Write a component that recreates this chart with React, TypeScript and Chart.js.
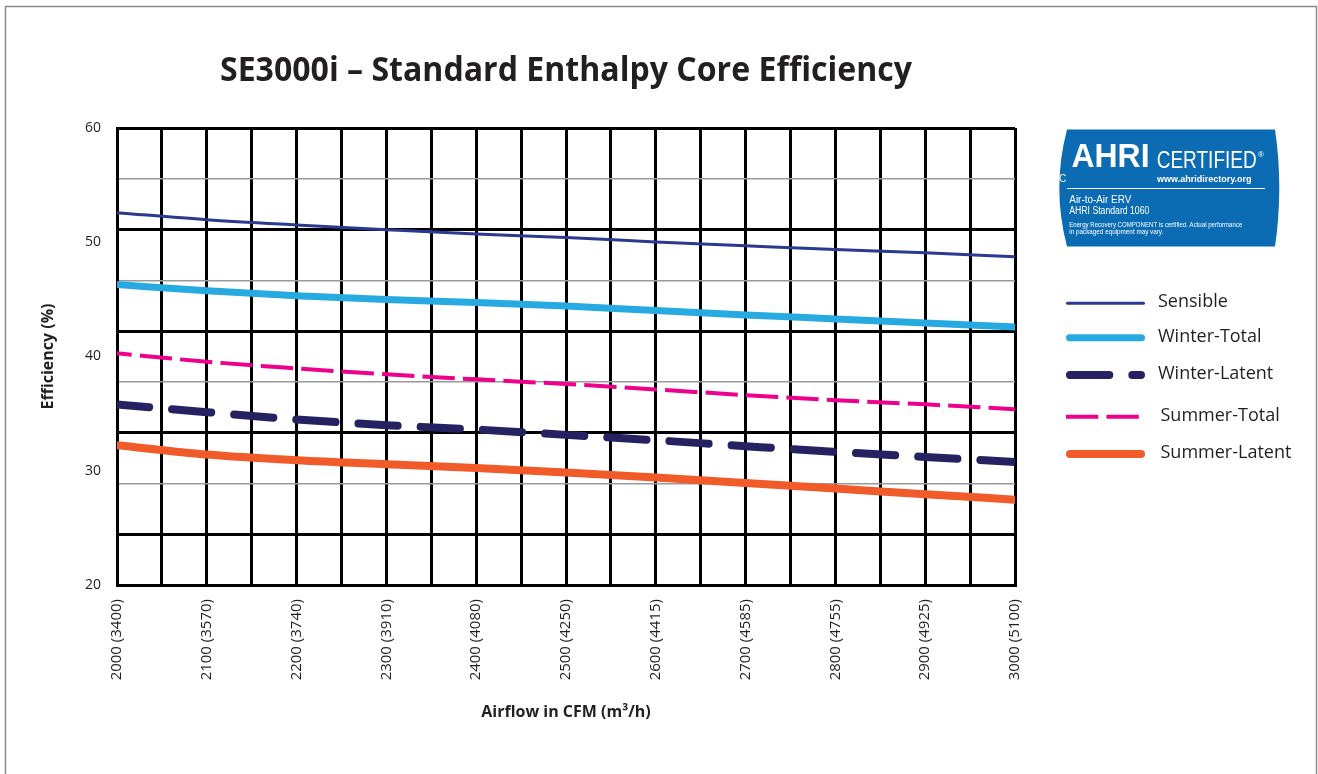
import React, { useEffect, useRef } from 'react';
import { Chart, registerables } from 'chart.js';

Chart.register(...registerables);

// ---- Data ----
const cfm = [2000, 2100, 2200, 2300, 2400, 2500, 2600, 2700, 2800, 2900, 3000];
const xTickLabels = [
  '2000 (3400)', '2100 (3570)', '2200 (3740)', '2300 (3910)', '2400 (4080)', '2500 (4250)',
  '2600 (4415)', '2700 (4585)', '2800 (4755)', '2900 (4925)', '3000 (5100)',
];
const sensible = [52.59, 51.97, 51.51, 51.1, 50.72, 50.42, 50.02, 49.69, 49.37, 49.08, 48.73];
const winterTotal = [46.3, 45.75, 45.31, 44.98, 44.72, 44.43, 44.02, 43.64, 43.29, 42.94, 42.59];
const summerTotal = [40.28, 39.54, 38.96, 38.44, 38.0, 37.59, 37.12, 36.62, 36.18, 35.81, 35.39];
const winterLatent = [35.81, 35.13, 34.49, 33.99, 33.61, 33.14, 32.67, 32.15, 31.65, 31.21, 30.77];
const summerLatent = [32.24, 31.42, 30.92, 30.57, 30.25, 29.84, 29.4, 28.93, 28.44, 27.94, 27.47];
const seriesNames = ['Sensible', 'Winter-Total', 'Winter-Latent', 'Summer-Total', 'Summer-Latent'];

const chartTitle = 'SE3000i \u2013 Standard Enthalpy Core Efficiency';
const xTitle = 'Airflow in CFM (m\u00B3/h)';
const yTitle = 'Efficiency (%)';

const FONT = "'Open Sans', sans-serif";
const BADGE_FONT = "'Liberation Sans', Arial, sans-serif";
const TEXT = '#231f20';

const toPts = (arr: number[]) => arr.map((v, i) => ({ x: cfm[i], y: v }));

const decorPlugin = {
  id: 'decor',
  beforeDraw(chart: any) {
    const ctx = chart.ctx;
    ctx.save();
    ctx.fillStyle = '#ffffff';
    ctx.fillRect(0, 0, chart.width, chart.height);
    ctx.strokeStyle = '#8a8a8a';
    ctx.lineWidth = 1.5;
    ctx.strokeRect(5.5, 6.5, 1311, 900);
    ctx.restore();
  },
  afterDraw(chart: any) {
    const ctx = chart.ctx;
    ctx.save();
    // Title
    ctx.fillStyle = TEXT;
    ctx.font = `bold 34px ${FONT}`;
    ctx.textAlign = 'center';
    ctx.textBaseline = 'alphabetic';
    ctx.fillText(chartTitle, 566, 81, 692);

    // Legend
    const rows = [303.3, 337.7, 375, 416.7, 454];
    const textX = [1158, 1158, 1158, 1160.5, 1160.5];
    chart.data.datasets.forEach((ds: any, i: number) => {
      const y = rows[i];
      ctx.save();
      ctx.strokeStyle = ds.borderColor;
      ctx.lineWidth = ds.borderWidth;
      ctx.lineCap = ds.borderDash && ds.borderDash.length && ds.borderCapStyle !== 'round' ? 'butt' : 'round';
      ctx.setLineDash(ds.borderDash || []);
      const w2 = ctx.lineCap === 'round' ? ds.borderWidth / 2 : 0;
      ctx.beginPath();
      ctx.moveTo(1066 + w2, y);
      ctx.lineTo(1145 - w2, y);
      ctx.stroke();
      ctx.restore();
      ctx.fillStyle = TEXT;
      ctx.font = `18px ${FONT}`;
      ctx.textAlign = 'left';
      ctx.textBaseline = 'middle';
      ctx.fillText(ds.label, textX[i], y - 1);
    });

    // AHRI badge
    ctx.fillStyle = '#0b6cb3';
    ctx.beginPath();
    ctx.moveTo(1067, 129.5);
    ctx.lineTo(1275, 129.5);
    ctx.quadraticCurveTo(1283.6, 188, 1275, 246.5);
    ctx.lineTo(1067, 246.5);
    ctx.quadraticCurveTo(1051.6, 188, 1067, 129.5);
    ctx.closePath();
    ctx.fill();

    ctx.fillStyle = '#ffffff';
    ctx.textAlign = 'left';
    ctx.textBaseline = 'alphabetic';
    ctx.font = `bold 33px ${BADGE_FONT}`;
    ctx.fillText('AHRI', 1071.5, 166.7, 78);
    ctx.font = `23px ${BADGE_FONT}`;
    ctx.fillText('CERTIFIED', 1156.7, 168.3, 100);
    ctx.font = `8px ${BADGE_FONT}`;
    ctx.fillText('\u00AE', 1258, 157);
    ctx.font = `bold 9px ${BADGE_FONT}`;
    ctx.fillText('www.ahridirectory.org', 1157, 181.7, 100);
    ctx.font = `10px ${BADGE_FONT}`;
    ctx.fillText('C', 1059, 181.5);
    ctx.strokeStyle = '#ffffff';
    ctx.lineWidth = 1;
    ctx.beginPath();
    ctx.moveTo(1067, 188.5);
    ctx.lineTo(1265, 188.5);
    ctx.stroke();
    ctx.font = `10px ${BADGE_FONT}`;
    ctx.fillText('Air-to-Air ERV', 1069.3, 203.3, 62);
    ctx.fillText('AHRI Standard 1060', 1069.3, 214, 80);
    ctx.font = `7px ${BADGE_FONT}`;
    ctx.fillText('Energy Recovery COMPONENT is certified. Actual performance', 1069.3, 227, 173);
    ctx.fillText('in packaged equipment may vary.', 1069.3, 233.5, 94);
    ctx.restore();
  },
};

export default function App() {
  const ref = useRef<HTMLCanvasElement>(null);
  useEffect(() => {
    document.body.style.margin = '0';
    const chart = new Chart(ref.current as HTMLCanvasElement, {
      type: 'line',
      data: {
        datasets: [
          {
            label: seriesNames[0], data: toPts(sensible), borderColor: '#2b3990', borderWidth: 3,
            pointRadius: 0, cubicInterpolationMode: 'monotone', borderCapStyle: 'round',
          },
          {
            label: seriesNames[1], data: toPts(winterTotal), borderColor: '#27aae1', borderWidth: 7,
            pointRadius: 0, cubicInterpolationMode: 'monotone', borderCapStyle: 'round',
          },
          {
            label: seriesNames[2], data: toPts(winterLatent), borderColor: '#262262', borderWidth: 8,
            pointRadius: 0, cubicInterpolationMode: 'monotone', borderDash: [39.3, 23], borderDashOffset: 7,
            borderCapStyle: 'round',
          },
          {
            label: seriesNames[3], data: toPts(summerTotal), borderColor: '#ec008c', borderWidth: 4,
            pointRadius: 0, cubicInterpolationMode: 'monotone', borderDash: [32.3, 8.2], borderDashOffset: 17.6,
            borderCapStyle: 'butt',
          },
          {
            label: seriesNames[4], data: toPts(summerLatent), borderColor: '#f15a29', borderWidth: 8,
            pointRadius: 0, cubicInterpolationMode: 'monotone', borderCapStyle: 'round',
          },
        ],
      } as any,
      options: {
        animation: false,
        responsive: false,
        maintainAspectRatio: false,
        layout: { padding: { left: 0, top: 128, right: 303, bottom: 0 } },
        plugins: { legend: { display: false }, tooltip: { enabled: false }, title: { display: false } },
        scales: {
          x: {
            type: 'linear', min: 2000, max: 3000, position: 'bottom',
            afterFit: (s: any) => { s.height = 189; },
            grid: { color: '#000', lineWidth: 3, drawTicks: false },
            border: { display: true, color: '#000', width: 3 },
            ticks: {
              stepSize: 50, autoSkip: false, maxRotation: 90, minRotation: 90, padding: 14,
              font: { family: FONT, size: 15 }, color: TEXT,
              callback: (v: any) => {
                const i = (Number(v) - 2000) / 100;
                return Number.isInteger(i) ? xTickLabels[i] : '';
              },
            },
            title: {
              display: true, text: xTitle, color: TEXT,
              font: { family: FONT, size: 16, weight: 'bold' }, padding: { top: 0, bottom: 52 },
            },
          },
          y: {
            min: 20, max: 60, position: 'left',
            afterFit: (s: any) => { s.width = 117; },
            grid: { display: false, drawTicks: false },
            border: { display: true, color: '#000', width: 3 },
            ticks: { stepSize: 10, padding: 16, font: { family: FONT, size: 14 }, color: TEXT },
            title: {
              display: true, text: yTitle, color: TEXT,
              font: { family: FONT, size: 16, weight: 'bold' }, padding: { top: 39, bottom: 0 },
            },
          },
          yg: {
            min: 0, max: 9, position: 'left',
            afterFit: (s: any) => { s.width = 0; },
            ticks: { display: false, stepSize: 1 },
            border: { display: false },
            grid: {
              drawTicks: false,
              color: (c: any) => (c.tick && (c.tick.value % 2 === 1 || c.tick.value === 0) ? '#000' : '#9a9a9a'),
              lineWidth: (c: any) => (c.tick && (c.tick.value % 2 === 1 || c.tick.value === 0) ? 3 : 1.5),
            },
          },
        },
      } as any,
      plugins: [decorPlugin],
    });
    return () => chart.destroy();
  }, []);
  return (
    <div style={{ width: 1318, height: 774, position: 'relative', overflow: 'hidden', background: '#fff' }}>
      <canvas ref={ref} width={1318} height={774} style={{ display: 'block' }} />
    </div>
  );
}
